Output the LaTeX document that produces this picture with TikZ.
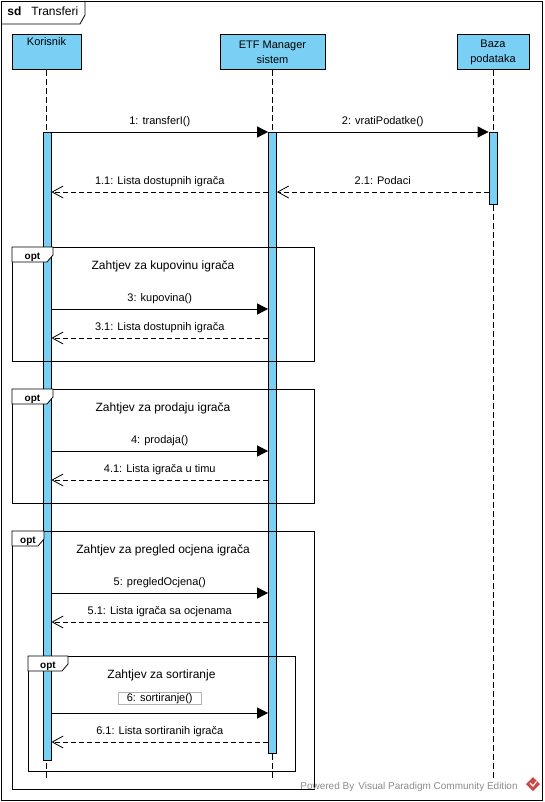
\documentclass[tikz,border=0pt]{standalone}
\usepackage{fontspec}
\setmainfont{Liberation Sans}
\usetikzlibrary{arrows.meta,positioning}
\definecolor{lifeblue}{RGB}{122,207,245}
\definecolor{vpgray}{RGB}{140,140,140}
\definecolor{vpred}{RGB}{205,70,70}

\begin{document}
\begin{tikzpicture}[x=1pt,y=-1pt,line width=0.8pt,font=\fontsize{11}{15}\selectfont]
	\tikzstyle{head}=[draw,fill=lifeblue,anchor=north,minimum height=35pt,align=center,inner sep=2pt]
	\tikzstyle{bar}=[draw,fill=lifeblue,anchor=north,minimum width=8pt,inner sep=0pt]
	\tikzstyle{life}=[dash pattern=on 6pt off 3pt]
	\tikzstyle{call}=[-{Triangle[length=11pt,width=11pt]}]
	\tikzstyle{reply}=[dash pattern=on 5pt off 3pt,-{Straight Barb[length=11pt,width=12pt]}]
	\tikzstyle{msg}=[text height=7.5pt,text depth=2.5pt,inner sep=1pt,above=4pt]
	\tikzstyle{title}=[font=\fontsize{12}{14}\selectfont,anchor=base]
	\tikzstyle{optlabel}=[font=\bfseries\fontsize{10}{12}\selectfont,anchor=base,inner sep=0pt]
	\tikzstyle{tab}=[draw,fill=white]

	\useasboundingbox (0,0) rectangle (544,802);

	% frame of the diagram
	\draw (1,1) rectangle (542,800.5);
	\draw (1,24) -- (80,24) -- (85,15) -- (85,1);
	\node[anchor=base west,inner sep=0pt,font=\fontsize{12}{14}\selectfont] (sd) at (7,16) {\textbf{sd}\hspace{10pt}Transferi};

	% lifelines
	\node[head,minimum width=69pt,text height=8pt,text depth=20pt] (kor) at (46.5,34) {Korisnik};
	\node[head,minimum width=105pt] (etf) at (272.5,34) {ETF Manager\\sistem};
	\node[head,minimum width=72pt] (baza) at (493,34) {Baza\\podataka};

	\coordinate (korEnd) at (46.5,778);
	\coordinate (etfEnd) at (272.5,778);
	\coordinate (bazaEnd) at (493,778);
	\draw[life] (kor.south) -- (korEnd);
	\draw[life] (etf.south) -- (etfEnd);
	\draw[life] (baza.south) -- (bazaEnd);

	\node[bar,minimum height=628pt] (actK) at (47,132) {};
	\node[bar,minimum height=621pt] (actE) at (272.5,132) {};
	\node[bar,minimum height=72pt] (actB) at (493,132) {};

	% opt fragments
	\foreach \xa/\ya/\xb/\yb/\xt/\txt [count=\i] in {12/247/314/361/53/{Zahtjev za kupovinu igrača},
		12/389/314/503/53/{Zahtjev za prodaju igrača},
		12/531/314/789/44/{Zahtjev za pregled ocjena igrača},
		28/656/295/771/68/{Zahtjev za sortiranje}} {
		\draw (\xa,\ya) rectangle (\xb,\yb);
		\draw[tab] (\xa,\ya) -- (\xa,\ya+15) -- (\xt-6,\ya+15) -- (\xt,\ya+8) -- (\xt,\ya) -- cycle;
		\node[optlabel] (opt\i) at ({(\xa+\xt)/2},\ya+12) {opt};
		\node[title] (title\i) at ({(\xa+\xb)/2},\ya+22) {\txt};
	}

	% messages
	\foreach \y/\txt in {132/{1: transferI()},309/{3: kupovina()},451/{4: prodaja()},593/{5: pregledOcjena()}}
		\draw[call] (actK.east |- 0,\y) -- node[msg] (call\y) {\txt} (actE.west |- 0,\y);
	\draw[call] (actE.east |- 0,132) -- node[msg] (callB) {2: vratiPodatke()} (actB.west |- 0,132);
	\draw[reply] (actB.west |- 0,192) -- node[msg] (retB) {2.1: Podaci} (actE.east |- 0,192);
	\draw[call] (actK.east |- 0,713) -- node[msg,draw=gray!60,line width=0.6pt,inner xsep=9pt,above=8pt] (call713) {6: sortiranje()} (actE.west |- 0,713);
	\foreach \y/\txt in {192/{1.1: Lista dostupnih igrača},338/{3.1: Lista dostupnih igrača},480/{4.1: Lista igrača u timu},622/{5.1: Lista igrača sa ocjenama},742/{6.1: Lista sortiranih igrača}}
		\draw[reply] (actE.west |- 0,\y) -- node[msg] (ret\y) {\txt} (actK.east |- 0,\y);

	% watermark
	\node[anchor=base west,inner sep=0pt,text=vpgray,font=\fontsize{10}{12}\selectfont] (vp) at (300,789) {Powered By\hspace{4pt}Visual Paradigm Community Edition};
	\fill[vpred] (533,777) -- (540,784) -- (533,791) -- (526,784) -- cycle;
	\draw[white,line width=1.2pt] (530,783) -- (533,786) -- (536.5,781.5);
\end{tikzpicture}
\end{document}
